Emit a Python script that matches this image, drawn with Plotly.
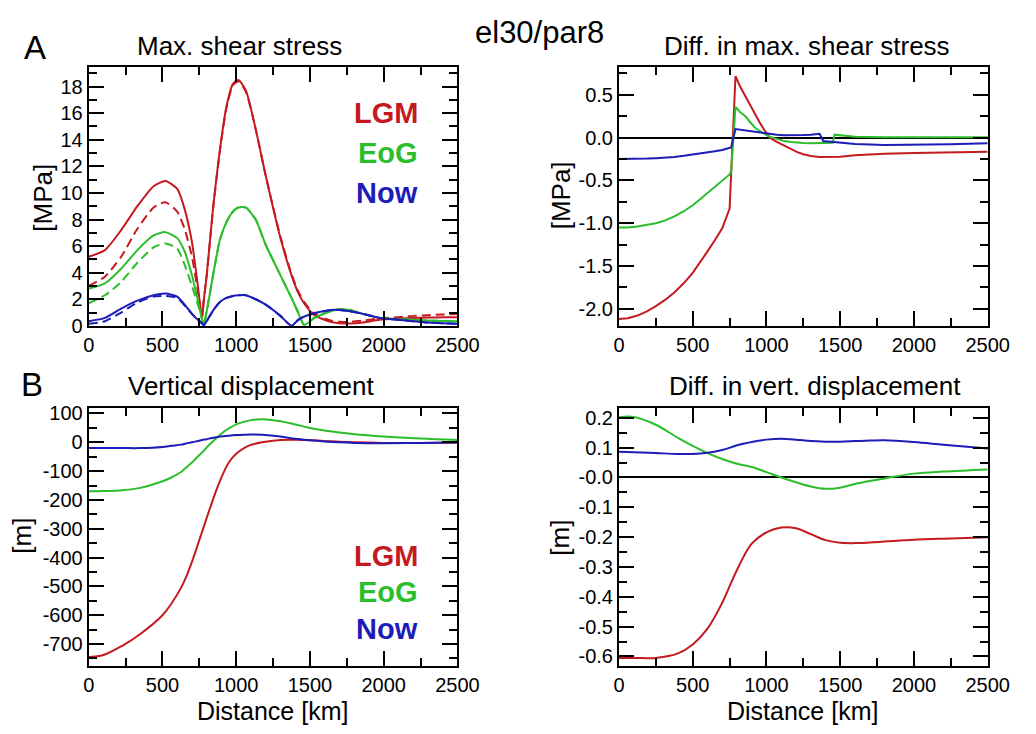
import plotly.graph_objects as go

W, H = 1036, 734
FONT = "Liberation Sans, Arial, Helvetica, sans-serif"
RED = "#c41a1f"
GREEN = "#2bbd2b"
BLUE = "#1c1cb8"

# ---------------- Panel A left: max. shear stress [MPa] ----------------
DIST_SHEAR = [0, 110, 220, 330, 440, 520, 600, 650, 700, 740, 768, 780, 800, 846, 890,
              934, 978, 1015, 1066, 1132, 1200, 1300, 1375, 1420, 1460, 1530, 1640, 1700,
              1770, 1860, 1970, 2100, 2200, 2300, 2400, 2500]
LGM_SHEAR = [5.2, 5.7, 7.2, 9.0, 10.5, 10.9, 10.3, 8.8, 6.3, 3.0, 0.6, 1.9, 3.8, 9.2, 13.3,
             16.5, 18.2, 18.5, 17.7, 14.8, 11.3, 6.6, 3.8, 2.5, 1.7, 0.8, 0.3, 0.2,
             0.18, 0.25, 0.45, 0.55, 0.6, 0.62, 0.64, 0.65]
LGM_SHEAR_DASH = [3.0, 3.7, 5.2, 7.3, 8.9, 9.3, 8.6, 7.3, 5.2, 2.6, 0.6, 1.9, 3.8, 9.1, 13.2,
                  16.4, 18.1, 18.4, 17.6, 14.8, 11.3, 6.7, 3.9, 2.6, 1.8, 0.9, 0.4, 0.3,
                  0.3, 0.4, 0.55, 0.65, 0.75, 0.8, 0.85, 0.9]
EOG_SHEAR = [2.8, 3.2, 4.3, 5.7, 6.8, 7.05, 6.6, 5.6, 3.8, 1.9, 0.5, 0.1, 1.1, 4.0, 6.5,
             7.8, 8.6, 8.9, 8.9, 8.0, 6.1, 3.8, 2.1, 1.0, 0.05, 0.6, 1.1, 1.25,
             1.2, 0.9, 0.6, 0.5, 0.45, 0.4, 0.37, 0.35]
EOG_SHEAR_DASH = [1.7, 2.3, 3.3, 4.75, 5.9, 6.2, 5.8, 4.6, 3.0, 1.6, 0.5, 0.1, 1.1, 4.0, 6.5,
                  7.8, 8.6, 8.9, 8.9, 8.0, 6.1, 3.8, 2.1, 1.0, 0.1, 0.6, 1.1, 1.25,
                  1.2, 0.9, 0.6, 0.5, 0.45, 0.4, 0.37, 0.35]
NOW_SHEAR = [0.35, 0.6, 1.3, 1.9, 2.3, 2.43, 2.2, 1.6, 0.9, 0.45, 0.2, 0.02, 0.35, 1.2, 1.8,
             2.1, 2.25, 2.3, 2.3, 2.0, 1.6, 0.75, 0.0, 0.45, 0.7, 0.95, 1.2, 1.2,
             1.1, 0.9, 0.6, 0.45, 0.35, 0.25, 0.2, 0.15]
NOW_SHEAR_DASH = [0.15, 0.35, 1.0, 1.76, 2.2, 2.25, 2.1, 1.55, 0.9, 0.45, 0.2, 0.02, 0.35, 1.2, 1.8,
                  2.1, 2.25, 2.3, 2.3, 2.0, 1.6, 0.75, 0.0, 0.45, 0.7, 0.95, 1.2, 1.2,
                  1.1, 0.9, 0.6, 0.45, 0.35, 0.25, 0.2, 0.15]

# ---------------- Panel A right: diff. in max. shear stress [MPa] ----------------
DIST_DSHEAR = [0, 60, 125, 190, 250, 310, 375, 440, 500, 550, 600, 650, 700, 750, 760, 790,
               820, 857, 890, 923, 956, 989, 1022, 1070, 1121, 1165, 1209, 1250, 1300, 1360,
               1385, 1450, 1462, 1500, 1600, 1800, 2000, 2250, 2500]
LGM_DSHEAR = [-2.12, -2.11, -2.08, -2.03, -1.97, -1.9, -1.81, -1.7, -1.58, -1.46, -1.33, -1.2,
              -1.06, -0.83, -0.45, 0.72, 0.6, 0.48, 0.375, 0.27, 0.17, 0.08, 0.0, -0.05,
              -0.095, -0.135, -0.17, -0.195, -0.215, -0.225, -0.226, -0.226, -0.226, -0.222,
              -0.205, -0.187, -0.18, -0.172, -0.165]
EOG_DSHEAR = [-1.05, -1.05, -1.04, -1.02, -1.0, -0.97, -0.92, -0.86, -0.79, -0.72, -0.65, -0.58,
              -0.5, -0.43, -0.40, 0.36, 0.30, 0.25, 0.18, 0.115, 0.075, 0.045, 0.01, -0.015,
              -0.04, -0.052, -0.06, -0.063, -0.065, -0.063, -0.062, -0.06, 0.035, 0.03, 0.01,
              0.005, 0.005, 0.005, 0.005]
NOW_DSHEAR = [-0.25, -0.25, -0.25, -0.245, -0.24, -0.235, -0.225, -0.213, -0.2, -0.188, -0.175,
              -0.16, -0.145, -0.125, -0.115, 0.10, 0.092, 0.084, 0.074, 0.065, 0.057, 0.05,
              0.04, 0.033, 0.027, 0.026, 0.027, 0.03, 0.035, 0.045, -0.04, -0.05, -0.052,
              -0.06, -0.075, -0.085, -0.085, -0.078, -0.065]
DSHEAR_TICKS = [-2.0, -1.5, -1.0, -0.5, 0.0, 0.5]
DSHEAR_LABELS = ["-2.0", "-1.5", "-1.0", "-0.5", "0.0", "0.5"]

# ---------------- Panel B left: vertical displacement [m] ----------------
DIST_VERT = [0, 100, 230, 350, 500, 560, 626, 660, 700, 735, 769, 800, 835, 870, 912, 950,
             1000, 1050, 1100, 1175, 1300, 1400, 1500, 1600, 1700, 1800, 2000, 2250, 2500]
LGM_VERT = [-745, -738, -705, -665, -600, -560, -505, -468, -415, -362, -310, -262, -210,
            -160, -108, -70, -40, -21, -9, 0, 8, 9, 7, 5, 2, 0, -2, -2, -1]
EOG_VERT = [-170, -169, -166, -158, -135, -122, -103, -88, -70, -52, -35, -18, 0, 17, 35, 48,
            62, 71, 77, 80, 73, 62, 50, 41, 34, 28, 20, 13, 8]
NOW_VERT = [-20, -20, -20, -20, -16, -12, -8, -4, 0, 4, 8, 11, 15, 18, 21, 23,
            25, 26, 27, 26, 20, 12, 7, 3, 0, -2, -3, -2, -1]
VERT_TICKS = [-700, -600, -500, -400, -300, -200, -100, 0, 100]
VERT_LABELS = ["-700", "-600", "-500", "-400", "-300", "-200", "-100", "0", "100"]

# ---------------- Panel B right: diff. in vert. displacement [m] ----------------
DIST_DVERT = [0, 100, 250, 400, 500, 600, 700, 800, 900, 1000, 1100, 1200, 1300, 1400, 1500,
              1600, 1700, 1800, 2000, 2200, 2500]
LGM_DVERT = [-0.605, -0.605, -0.605, -0.59, -0.56, -0.507, -0.42, -0.31, -0.222, -0.184, -0.168,
             -0.17, -0.19, -0.21, -0.219, -0.22, -0.218, -0.215, -0.209, -0.205, -0.2]
EOG_DVERT = [0.202, 0.203, 0.177, 0.133, 0.106, 0.082, 0.062, 0.046, 0.035, 0.018, 0.0,
             -0.016, -0.03, -0.038, -0.034, -0.022, -0.012, -0.003, 0.013, 0.02, 0.027]
NOW_DVERT = [0.086, 0.085, 0.082, 0.079, 0.079, 0.083, 0.092, 0.108, 0.119, 0.127, 0.13,
             0.127, 0.122, 0.12, 0.12, 0.122, 0.124, 0.125, 0.119, 0.11, 0.097]
DVERT_TICKS = [-0.6, -0.5, -0.4, -0.3, -0.2, -0.1, 0.0, 0.1, 0.2]
DVERT_LABELS = ["-0.6", "-0.5", "-0.4", "-0.3", "-0.2", "-0.1", "-0.0", "0.1", "0.2"]

fig = go.Figure()


def line(x, y, color, xa, ya, dash="solid", shape="linear", smooth=0.0):
    ln = dict(color=color, width=2, dash=dash, shape=shape)
    if shape == "spline":
        ln["smoothing"] = smooth
    fig.add_trace(go.Scatter(x=x, y=y, mode="lines", xaxis=xa, yaxis=ya, line=ln,
                             showlegend=False, hoverinfo="skip"))


DASH = "9px,5px"
SP = dict(shape="spline", smooth=0.6)
line(DIST_SHEAR, LGM_SHEAR, RED, "x", "y", **SP)
line(DIST_SHEAR, LGM_SHEAR_DASH, RED, "x", "y", DASH, **SP)
line(DIST_SHEAR, EOG_SHEAR, GREEN, "x", "y", **SP)
line(DIST_SHEAR, EOG_SHEAR_DASH, GREEN, "x", "y", DASH, **SP)
line(DIST_SHEAR, NOW_SHEAR, BLUE, "x", "y", **SP)
line(DIST_SHEAR, NOW_SHEAR_DASH, BLUE, "x", "y", DASH, **SP)

line(DIST_DSHEAR, LGM_DSHEAR, RED, "x2", "y2")
line(DIST_DSHEAR, EOG_DSHEAR, GREEN, "x2", "y2")
line(DIST_DSHEAR, NOW_DSHEAR, BLUE, "x2", "y2")

SP2 = dict(shape="spline", smooth=1.0)
line(DIST_VERT, LGM_VERT, RED, "x3", "y3", **SP2)
line(DIST_VERT, EOG_VERT, GREEN, "x3", "y3", **SP2)
line(DIST_VERT, NOW_VERT, BLUE, "x3", "y3", **SP2)

line(DIST_DVERT, LGM_DVERT, RED, "x4", "y4", **SP2)
line(DIST_DVERT, EOG_DVERT, GREEN, "x4", "y4", **SP2)
line(DIST_DVERT, NOW_DVERT, BLUE, "x4", "y4", **SP2)

TICKFONT = dict(family=FONT, size=20, color="black")


def axis(domain, anchor, rng, dtick, minor, zeroline=False, **kw):
    d = dict(domain=domain, anchor=anchor, range=rng, tick0=0, dtick=dtick,
             ticks="inside", ticklen=15, tickwidth=2, tickcolor="black",
             showline=True, linewidth=2, linecolor="black", mirror="ticks",
             showgrid=False, zeroline=zeroline, zerolinecolor="black", zerolinewidth=1.8,
             minor=dict(dtick=minor, ticks="inside", ticklen=8, tickwidth=2,
                        tickcolor="black", showgrid=False),
             tickfont=TICKFONT)
    d.update(kw)
    return d


XL = [85 / W, 464 / W]
XR = [630 / W, 1009 / W]
YT = [1 - 328 / H, 1 - 63 / H]
YB = [1 - 676 / H, 1 - 412 / H]

fig.update_layout(
    width=W, height=H, margin=dict(l=0, r=0, t=0, b=0),
    paper_bgcolor="white", plot_bgcolor="white", showlegend=False,
    xaxis=axis(XL, "y", [0, 2500], 500, 250),
    yaxis=axis(YT, "x", [0, 19.5], 2, 1),
    xaxis2=axis(XR, "y2", [0, 2500], 500, 250),
    yaxis2=axis(YT, "x2", [-2.2, 0.83], 0.5, 0.25, zeroline=True,
                tickmode="array", tickvals=DSHEAR_TICKS, ticktext=DSHEAR_LABELS),
    xaxis3=axis(XL, "y3", [0, 2500], 500, 250),
    yaxis3=axis(YB, "x3", [-777, 119], 100, 50,
                tickmode="array", tickvals=VERT_TICKS, ticktext=VERT_LABELS),
    xaxis4=axis(XR, "y4", [0, 2500], 500, 250),
    yaxis4=axis(YB, "x4", [-0.633, 0.233], 0.1, 0.05, zeroline=True,
                tickmode="array", tickvals=DVERT_TICKS, ticktext=DVERT_LABELS),
)


def text(s, px, py, size, color="black", bold=False, angle=0, xanchor="center"):
    fig.add_annotation(text=("<b>%s</b>" % s) if bold else s, x=px / W, y=1 - py / H,
                       xref="paper", yref="paper", showarrow=False, textangle=angle,
                       xanchor=xanchor, yanchor="middle",
                       font=dict(family=FONT, size=size, color=color))


text("el30/par8", 548, 28, 31)
text("A", 30, 43, 33)
text("B", 27, 388, 33)
text("Max. shear stress", 240, 42, 26)
text("Diff. in max. shear stress", 823, 42, 26)
text("Vertical displacement", 252, 390, 26)
text("Diff. in vert. displacement", 831, 390, 26)
text("Distance [km]", 274, 722, 25)
text("Distance [km]", 819, 722, 25)
text("[MPa]", 38, 197, 26, angle=-90)
text("[MPa]", 570, 195, 26, angle=-90)
text("[m]", 17, 543, 26, angle=-90)
text("[m]", 570, 545, 26, angle=-90)

for lbl, col, py in [("LGM", RED, 110), ("EoG", GREEN, 151), ("Now", BLUE, 192)]:
    text(lbl, 426, py, 29, color=col, bold=True, xanchor="right")
for lbl, col, py in [("LGM", RED, 563), ("EoG", GREEN, 600), ("Now", BLUE, 638)]:
    text(lbl, 426, py, 29, color=col, bold=True, xanchor="right")

fig.write_html("out.html")
